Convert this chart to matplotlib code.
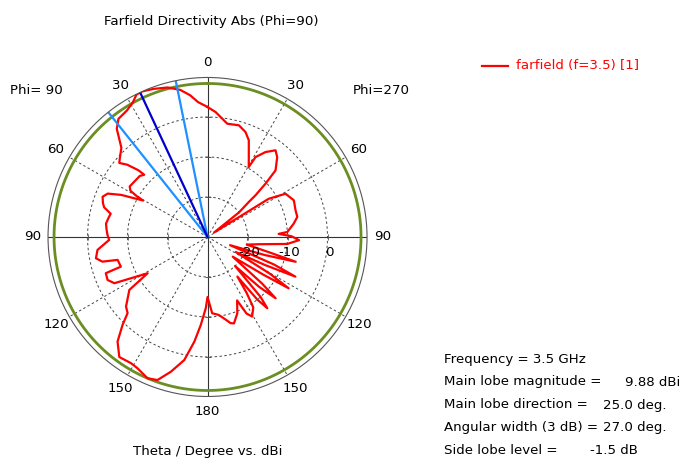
import numpy as np
import matplotlib
matplotlib.use('Agg')
import matplotlib.pyplot as plt
from matplotlib.lines import Line2D

# farfield cut (Phi=90 / Phi=270), dBi
# left half: theta 0..180 on the Phi=90 side
left_theta = [0, 4, 7, 10.5, 15, 20, 24, 26.5, 29, 32.5,
              37, 40, 44, 48, 50, 48, 46, 45.5, 48, 57,
              59, 60, 60.5, 64, 66.5, 69, 72, 74, 76.5, 79,
              82.5, 86, 89, 91.7, 96.7, 100.8, 103.2, 104.3, 108.9, 109.6,
              113.3, 116.4, 121.2, 124.1, 130.5, 133.6, 136, 139.3, 143.7, 148.7,
              151.9, 157, 160.7, 164.8, 169.3, 172.8, 175.6, 178.6, 180]
left_db = [2.5, 3.8, 5.7, 7.4, 8.7, 9.4, 9.88, 9.8, 8.5, 7.5,
           7.0, 5.3, 1.0, -0.5, -1.2, -3.0, -6.0, -7.8, -7.2, -6.8,
           -7.5, -9.5, -11.5, -6.0, -2.8, -1.9, -2.5, -3.1, -5.1, -4.8,
           -4.4, -4.7, -5.0, -5.4, -2.3, -1.6, -3.0, -6.8, -7.1, -3.0,
           -2.8, -4.0, -12.5, -6.4, -3.2, -2.4, 0.6, 4.5, 7.25, 6.9,
           7.2, 8.38, 7.9, 4.9, 1.3, -3.6, -7.9, -12.2, -15.0]

# right half: theta 180..0 on the Phi=270 side
right_theta = [180, 176.5, 171.8, 168, 165, 163, 158.7, 155, 153, 150.7,
               147, 145, 143, 141.5, 140, 138.5, 136.5, 134, 132, 130.5,
               128, 124, 122.3, 120.5, 118, 116, 114.3, 112.5, 110, 107.5,
               105.7, 104, 101, 98, 95, 92, 89.5, 87.5, 86.4, 81.2,
               77.4, 73.1, 67, 61, 58, 55.5, 52, 49.7, 49, 47.4,
               45.6, 41.1, 38.1, 34.3, 31, 30.5, 27.3, 23.1, 19.9, 15.7,
               9.9, 7.1, 3.7, 0]
right_db = [-15, -10.9, -10.3, -9, -7.7, -7.4, -9.5, -12.5, -8.5, -7.2,
            -9, -13, -17.6, -10, -6.75, -10, -20, -12, -7.1, -12,
            -22, -13, -6, -12, -22, -14, -5.9, -12, -24, -15,
            -7.1, -14, -20, -17, -10, -7.1, -9, -12.2, -10, -8.2,
            -7.0, -7.0, -6.55, -7.7, -12, -28, -20, -16.5, -14.1, -10.3,
            -6.2, -3.5, -2.45, -4.3, -6.7, -9.7, -7.5, -3.7, -2.1, -1.0,
            -1.25, -0.2, 1.3, 2.5]

main_lobe_mag = 9.88
main_lobe_dir = 25.0
angular_width = 27.0
side_lobe_level = -1.5
r_min = -30
r_grid = [-20, -10, 0]

theta_ticks = [0, 30, 60, 90, 120, 150, 180, 210, 240, 270, 300, 330]
theta_labels = ['0', '30', '60', '90', '120', '150', '180', '150', '120', '90', '60', '30']

info_labels = ['Frequency = 3.5 GHz', 'Main lobe magnitude =', 'Main lobe direction =',
               'Angular width (3 dB) =', 'Side lobe level =']
info_values = ['', '9.88 dBi', '25.0 deg.', '27.0 deg.', '-1.5 dB']

plt.rcParams['font.family'] = 'DejaVu Sans'
plt.rcParams['font.size'] = 9.6

fig = plt.figure(figsize=(6.83, 4.59), dpi=100)
ax = fig.add_axes([0.0703, 0.1362, 0.4671, 0.695], projection='polar')
ax.set_theta_zero_location('N')
ax.set_theta_direction(1)
ax.set_ylim(r_min, main_lobe_mag)
ax.grid(False)
ax.set_xticks([])
ax.set_yticks([])
ax.spines['polar'].set_color('#555555')
ax.spines['polar'].set_linewidth(0.8)

# grid circles and spokes
circ = np.linspace(0, 2 * np.pi, 361)
for rg in r_grid:
    ax.plot(circ, [rg] * len(circ), color='#444444', lw=0.7, ls=(0, (2.5, 2.5)))
for a in theta_ticks:
    if a % 90 == 0:
        ax.plot([np.radians(a)] * 2, [r_min, main_lobe_mag], color='#333333', lw=0.8)
    else:
        ax.plot([np.radians(a)] * 2, [r_min, main_lobe_mag], color='#444444', lw=0.7,
                ls=(0, (2.5, 2.5)))

# small ticks where the grid circles cross the axes
for rg in r_grid:
    ax.plot([0, np.pi], [rg, rg], ls='none', marker='_', ms=4, mew=0.6, color='#555555')
    ax.plot([np.pi / 2, 3 * np.pi / 2], [rg, rg], ls='none', marker='|', ms=4, mew=0.6,
            color='#555555')

# side lobe level circle
ax.plot(circ, [main_lobe_mag + side_lobe_level] * len(circ), color='#6B8E23', lw=2.0)

# pattern
theta = np.radians(np.array(left_theta + [360 - t for t in right_theta]))
db = np.array(left_db + right_db)
ax.plot(theta, db, color='#FF0000', lw=1.6, solid_joinstyle='round')

# main lobe direction and 3 dB width
for a, c in [(main_lobe_dir - angular_width / 2, '#1E90FF'),
             (main_lobe_dir + angular_width / 2, '#1E90FF'),
             (main_lobe_dir, '#0000CD')]:
    ax.plot([np.radians(a)] * 2, [r_min, main_lobe_mag], color=c, lw=1.6)

# angle labels
for a, lab in zip(theta_ticks, theta_labels):
    ax.text(np.radians(a), 13.75, lab, ha='center', va='center', clip_on=False)

# radial labels below the right horizontal axis
for rg in r_grid:
    ax.annotate(str(rg), xy=(np.radians(270), rg), xytext=(2, -16),
                textcoords='offset pixels', ha='center', va='center')

fig.text(211 / 683, 1 - 22 / 459, 'Farfield Directivity Abs (Phi=90)', ha='center', va='center')
fig.text(208 / 683, 1 - 452 / 459, 'Theta / Degree vs. dBi', ha='center', va='center')
fig.text(10 / 683, 1 - 91 / 459, 'Phi= 90', ha='left', va='center')
fig.text(353 / 683, 1 - 91 / 459, 'Phi=270', ha='left', va='center')

# legend
fig.add_artist(Line2D([482 / 683, 508 / 683], [1 - 66 / 459] * 2, color='#FF0000', lw=1.6))
fig.text(516 / 683, 1 - 66 / 459, 'farfield (f=3.5) [1]', color='#FF0000', ha='left', va='center')

# summary block
info_y = [359, 382, 405, 428, 451]
info_x = [0, 625, 603, 603, 590]
for lab, val, y, x in zip(info_labels, info_values, info_y, info_x):
    fig.text(444 / 683, 1 - y / 459, lab, ha='left', va='center')
    if val:
        fig.text(x / 683, 1 - y / 459, val, ha='left', va='center')

plt.savefig('out.png', dpi=100)
